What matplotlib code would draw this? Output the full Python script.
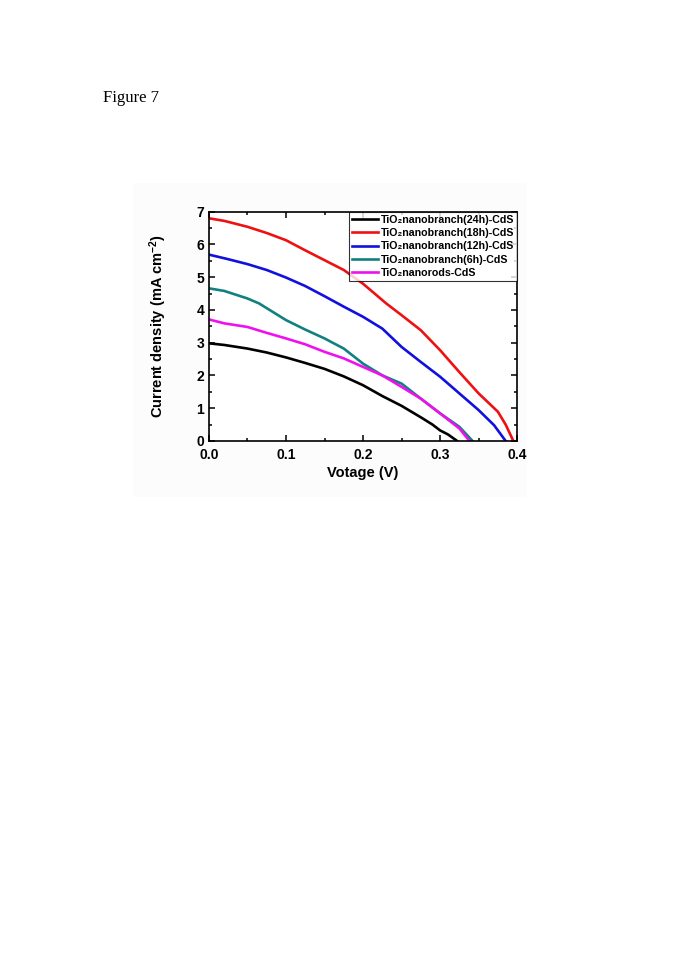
import matplotlib.pyplot as plt
import numpy as np

plt.rcParams['font.family'] = ['Liberation Sans', 'DejaVu Sans']
plt.rcParams['font.weight'] = 'bold'
plt.rcParams['mathtext.fontset'] = 'custom'
plt.rcParams['mathtext.bf'] = 'Liberation Sans:bold'
plt.rcParams['mathtext.rm'] = 'Liberation Sans:bold'
plt.rcParams['mathtext.default'] = 'bf'

# J-V curves
v_24h = [0, 0.02, 0.05, 0.075, 0.1, 0.125, 0.15, 0.175, 0.2, 0.225, 0.25, 0.275, 0.29, 0.3, 0.31, 0.322]
j_24h = [2.98, 2.93, 2.82, 2.7, 2.55, 2.38, 2.2, 1.97, 1.7, 1.37, 1.07, 0.72, 0.5, 0.32, 0.2, 0.0]

v_18h = [0, 0.02, 0.05, 0.075, 0.1, 0.125, 0.15, 0.175, 0.2, 0.23, 0.25, 0.275, 0.3, 0.325, 0.35, 0.375, 0.385, 0.395]
j_18h = [6.8, 6.72, 6.54, 6.35, 6.13, 5.82, 5.52, 5.22, 4.8, 4.2, 3.84, 3.38, 2.77, 2.1, 1.45, 0.89, 0.5, 0.0]

v_12h = [0, 0.025, 0.05, 0.075, 0.1, 0.125, 0.15, 0.175, 0.2, 0.225, 0.25, 0.275, 0.3, 0.325, 0.35, 0.37, 0.385]
j_12h = [5.69, 5.55, 5.4, 5.22, 4.99, 4.73, 4.42, 4.1, 3.79, 3.43, 2.87, 2.41, 1.96, 1.45, 0.94, 0.48, 0.0]

v_6h = [0, 0.02, 0.05, 0.065, 0.1, 0.125, 0.15, 0.175, 0.2, 0.225, 0.25, 0.275, 0.3, 0.325, 0.342]
j_6h = [4.66, 4.58, 4.35, 4.2, 3.69, 3.4, 3.13, 2.82, 2.36, 2.0, 1.75, 1.29, 0.84, 0.43, 0.0]

v_rods = [0, 0.02, 0.05, 0.075, 0.1, 0.125, 0.15, 0.175, 0.2, 0.225, 0.25, 0.275, 0.3, 0.325, 0.338]
j_rods = [3.71, 3.59, 3.48, 3.3, 3.13, 2.95, 2.72, 2.52, 2.26, 2.0, 1.65, 1.29, 0.84, 0.38, 0.0]

labels = ['TiO\u2082nanobranch(24h)-CdS', 'TiO\u2082nanobranch(18h)-CdS',
          'TiO\u2082nanobranch(12h)-CdS', 'TiO\u2082nanobranch(6h)-CdS',
          'TiO\u2082nanorods-CdS']
colors = ['black', '#ee1111', '#1111dd', '#118080', '#ee11ee']

fig = plt.figure(figsize=(6.85, 9.69), dpi=100)
fig.text(0.15, 0.895, 'Figure 7', family='Liberation Serif', weight='normal', fontsize=12)

# very faint grey panel behind the pasted plot
fig.patches.append(plt.Rectangle((0.194, 0.487), 0.575, 0.324, transform=fig.transFigure,
                                 facecolor='#fcfcfc', edgecolor='none', zorder=-1))

ax = fig.add_axes([0.305, 0.545, 0.45, 0.2365])
series = [(v_24h, j_24h), (v_18h, j_18h), (v_12h, j_12h), (v_6h, j_6h), (v_rods, j_rods)]
for (v, j), lab, c in zip(series, labels, colors):
    ax.plot(v, j, color=c, lw=1.9, label=lab)

ax.set_xlim(0, 0.4)
ax.set_ylim(0, 7)
ax.set_xticks(np.arange(0, 0.41, 0.1))
ax.set_xticks(np.arange(0, 0.41, 0.05), minor=True)
ax.set_yticks(range(8))
ax.set_yticks(np.arange(0, 7.01, 0.5), minor=True)
ax.xaxis.set_major_formatter(plt.FormatStrFormatter('%.1f'))
ax.tick_params(which='both', direction='in', top=True, right=True, labelsize=10, width=1.1)
ax.tick_params(axis='x', pad=5)
ax.tick_params(which='major', length=4)
ax.tick_params(which='minor', length=2)
for s in ax.spines.values():
    s.set_linewidth(1.2)

ax.set_xlabel('Votage (V)', fontsize=10.5, weight='bold', labelpad=3)
ax.set_ylabel('Current density (mA cm$^{-2}$)', fontsize=10.5, weight='bold', labelpad=20)

leg = ax.legend(loc='upper right', fontsize=7.7, frameon=True, fancybox=False,
                edgecolor='black', handlelength=2.4, borderpad=0.3,
                labelspacing=0.3, handletextpad=0.25, borderaxespad=0)
leg.get_frame().set_linewidth(0.8)

fig.savefig('out.png', dpi=100)
